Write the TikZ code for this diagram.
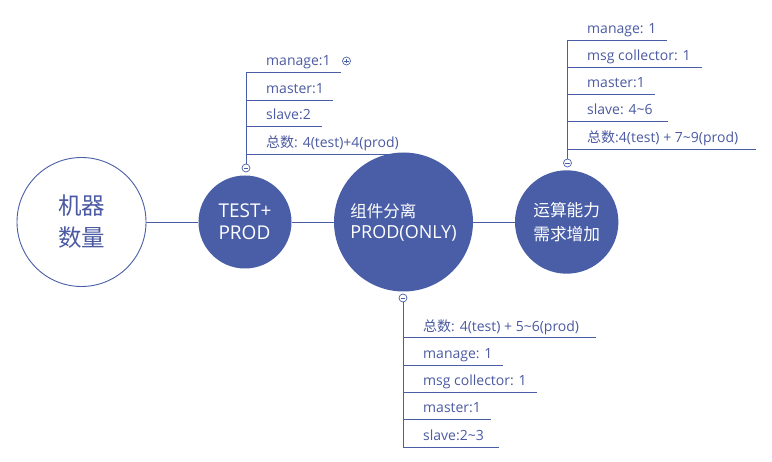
\documentclass[tikz,border=0pt]{standalone}
\usepackage{fontspec}
\setmainfont{Open Sans}
\newfontfamily\cjk{Noto Sans CJK SC}
\definecolor{mb}{RGB}{73,94,166}
\definecolor{tb}{RGB}{75,90,162}
\begin{document}
\begin{tikzpicture}[x=1pt,y=-1pt,
  leaf/.style={anchor=base west, inner sep=0, text=tb, font=\fontsize{14}{16}\selectfont},
  ln/.style={draw=mb, line width=0.9pt},
  bigc/.style={circle, fill=mb, inner sep=0, text=white},
  tog/.style={circle, draw=mb, fill=white, inner sep=0, minimum size=8pt, line width=0.7pt,
    path picture={\draw[mb,line width=0.6pt] ([xshift=-2.2pt]path picture bounding box.center) -- ([xshift=2.2pt]path picture bounding box.center);}},
  togp/.style={tog, path picture={\draw[mb,line width=0.6pt] ([xshift=-2.2pt]path picture bounding box.center) -- ([xshift=2.2pt]path picture bounding box.center) ([yshift=-2.2pt]path picture bounding box.center) -- ([yshift=2.2pt]path picture bounding box.center);}}
]
\useasboundingbox (0,0) rectangle (772,462);
\fill[white] (0,0) rectangle (772,462);

% branch 1 (above TEST+PROD)
\node[tog] (t1) at (246,168) {};
\coordinate (b1a) at (246,72);  \coordinate (b1ae) at (341,72);
\coordinate (b1b) at (246,100); \coordinate (b1be) at (333,100);
\coordinate (b1c) at (246,126); \coordinate (b1ce) at (322,126);
\coordinate (b1d) at (246,154); \coordinate (b1de) at (405,154);
\draw[ln] (t1.north) -- (b1a) -- (b1ae);
\draw[ln] (b1b) -- (b1be);
\draw[ln] (b1c) -- (b1ce);
\draw[ln] (b1d) -- (b1de);
\node[leaf] (l1a) at (266,65.5) {manage:1};
\node[leaf] (l1b) at (266,93.5) {master:1};
\node[leaf] (l1c) at (266,119.5) {slave:2};
\node[leaf] (l1d) at (266,147.5) {{\cjk 总数}: 4(test)+4(prod)};
\node[togp] (p1) at (346.5,61) {};

% main nodes
\node[circle, draw=mb, fill=white, line width=0.9pt, inner sep=0, minimum size=129pt, align=center, text=tb,
  font=\cjk\fontsize{23.5}{32}\selectfont] (c1) at (81.5,222) {机器\\数量};
\node[bigc, minimum size=93pt, align=left, font=\fontsize{19}{22}\selectfont] (c2) at (245,222) {TEST+\hspace{3pt}\\PROD};
\node[bigc, minimum size=139pt, align=left, font=\fontsize{18}{21}\selectfont] (c3) at (403.5,222) {{\cjk\fontsize{16.5}{21}\selectfont 组件分离}\\PROD(ONLY)};
\node[bigc, minimum size=103.4pt, align=center, font=\cjk\fontsize{16.7}{23.5}\selectfont] (c4) at (566.7,222) {运算能力\\需求增加};

\draw[ln] (c1.east) -- (c2.west);
\draw[ln] (c2.east) -- (c3.west);
\draw[ln] (c3.east) -- (c4.west);

% branch 3 (above 运算能力)
\node[tog] (t3) at (567.5,163) {};
\coordinate (b3a) at (567.5,40);  \coordinate (b3ae) at (667,40);
\coordinate (b3b) at (567.5,67);  \coordinate (b3be) at (702,67);
\coordinate (b3c) at (567.5,94);  \coordinate (b3ce) at (655,94);
\coordinate (b3d) at (567.5,121); \coordinate (b3de) at (668,121);
\coordinate (b3e) at (567.5,149); \coordinate (b3ee) at (756,149);
\draw[ln] (t3.north) -- (b3a) -- (b3ae);
\draw[ln] (b3b) -- (b3be);
\draw[ln] (b3c) -- (b3ce);
\draw[ln] (b3d) -- (b3de);
\draw[ln] (b3e) -- (b3ee);
\node[leaf] (l3a) at (587,33.5) {manage: 1};
\node[leaf] (l3b) at (587,60.5) {msg collector: 1};
\node[leaf] (l3c) at (587,87.5) {master:1};
\node[leaf] (l3d) at (587,114.5) {slave: 4\char"007E 6};
\node[leaf] (l3e) at (587,142.5) {{\cjk 总数}:4(test) + 7\char"007E 9(prod)};

% branch 2 (below 组件分离)
\node[tog] (t2) at (403,298) {};
\coordinate (b2a) at (403,337.7); \coordinate (b2ae) at (596,337.7);
\coordinate (b2b) at (403,365);   \coordinate (b2be) at (503,365);
\coordinate (b2c) at (403,392.3); \coordinate (b2ce) at (537,392.3);
\coordinate (b2d) at (403,419.3); \coordinate (b2de) at (491,419.3);
\coordinate (b2e) at (403,447);   \coordinate (b2ee) at (499,447);
\draw[ln] (t2.south) -- (b2e) -- (b2ee);
\draw[ln] (b2a) -- (b2ae);
\draw[ln] (b2b) -- (b2be);
\draw[ln] (b2c) -- (b2ce);
\draw[ln] (b2d) -- (b2de);
\node[leaf] (l2a) at (423,331.2) {{\cjk 总数}: 4(test) + 5\char"007E 6(prod)};
\node[leaf] (l2b) at (423,358.5) {manage: 1};
\node[leaf] (l2c) at (423,385.8) {msg collector: 1};
\node[leaf] (l2d) at (423,412.8) {master:1};
\node[leaf] (l2e) at (423,440.5) {slave:2\char"007E 3};
\end{tikzpicture}
\end{document}
